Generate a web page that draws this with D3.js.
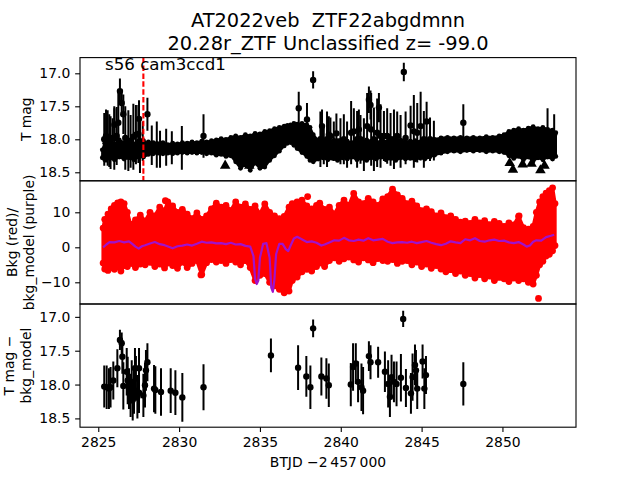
<!DOCTYPE html>
<html>
<head>
<meta charset="utf-8">
<script src="https://cdn.jsdelivr.net/npm/d3@7"></script>
<style>
  body { margin: 0; background: #fff; }
  svg { font-family: 'DejaVu Sans', sans-serif; }
  text { white-space: pre; }
</style>
</head>
<body>
<svg id="chart" width="640" height="480"></svg>
<script>
// ---------- data ----------

// title / annotation texts
var titleLines = ['AT2022veb  ZTF22abgdmnn', '20.28r_ZTF Unclassified z= -99.0'];
var sectorLabel = 's56 cam3ccd1';
var vlineT = 2827.79;

// tick values
var timeTicks = [2825, 2830, 2835, 2840, 2845, 2850];
var magTicks = [17.0, 17.5, 18.0, 18.5];
var bkgTicks = [-10, 0, 10];

// top panel: dense band of T mag (bright and faint edge)
var bandT = [2825.25, 2825.4, 2825.7, 2826.0, 2826.3, 2826.6, 2826.9, 2827.2, 2827.5, 2827.8,
    2828.1, 2828.4, 2828.7, 2829.0, 2829.3, 2829.6, 2829.9, 2830.2, 2830.5, 2830.8, 2831.1, 2831.4,
    2831.7, 2832.0, 2832.3, 2832.6, 2832.9, 2833.2, 2833.5, 2833.8, 2834.1, 2834.4, 2834.7, 2835.0,
    2835.3, 2835.6, 2835.9, 2836.2, 2836.5,
    2836.7, 2836.9, 2837.1, 2837.3, 2837.6, 2837.9, 2838.1, 2838.3,
    2838.6, 2838.9, 2839.2, 2839.5, 2839.8, 2840.1, 2840.4, 2840.7, 2841.0, 2841.3, 2841.6, 2841.9,
    2842.2, 2842.5, 2842.8, 2843.1, 2843.4, 2843.7, 2844.0, 2844.3, 2844.6, 2844.9, 2845.2, 2845.5, 2845.8,
    2846.2, 2846.6, 2847.0, 2847.4, 2847.8, 2848.2, 2848.6, 2849.0, 2849.4, 2849.8,
    2850.1, 2850.4, 2850.7, 2851.0, 2851.3, 2851.6, 2851.9, 2852.2, 2852.5, 2852.8, 2853.1, 2853.3];
var bandTop = [18.16, 18.06, 18.03, 18.07, 18.01, 18.05, 18.03, 18.07, 18.02, 18.06,
    18.04, 18.05, 18.07, 18.05, 18.08, 18.06, 18.07, 18.05, 18.06, 18.04, 18.05, 18.03,
    18.04, 18.02, 18.01, 17.99, 18.00, 17.97, 17.95, 17.97, 17.93, 17.95, 17.91, 17.92,
    17.88, 17.87, 17.84, 17.82, 17.80,
    17.79, 17.78, 17.76, 17.77, 17.76, 17.78, 17.82, 17.93,
    18.02, 18.04, 18.03, 18.05, 18.02, 18.04, 18.03, 18.05, 18.02, 18.04, 18.01, 18.03,
    18.05, 18.02, 18.04, 18.03, 18.05, 18.02, 18.04, 18.03, 18.02, 18.04, 18.03, 18.02, 18.00,
    17.98, 17.97, 17.98, 17.97, 17.98, 17.97, 17.98, 17.96, 17.97, 17.95,
    17.93, 17.88, 17.86, 17.84, 17.86, 17.83, 17.81, 17.84, 17.82, 17.85, 17.86, 17.90];
var bandBot = [18.28, 18.31, 18.29, 18.31, 18.27, 18.30, 18.28, 18.31, 18.27, 18.27,
    18.23, 18.22, 18.21, 18.22, 18.21, 18.22, 18.21, 18.20, 18.21, 18.20, 18.21, 18.20,
    18.22, 18.21, 18.24, 18.23, 18.26, 18.25, 18.34, 18.44, 18.38, 18.47, 18.36, 18.44,
    18.42, 18.32, 18.25, 18.18, 18.10,
    18.06, 18.05, 18.09, 18.14, 18.20, 18.26, 18.32, 18.34,
    18.30, 18.28, 18.31, 18.29, 18.32, 18.28, 18.30, 18.27, 18.31, 18.29, 18.32, 18.28,
    18.30, 18.27, 18.31, 18.29, 18.32, 18.28, 18.30, 18.29, 18.31, 18.28, 18.30, 18.27, 18.24,
    18.21, 18.19, 18.18, 18.19, 18.17, 18.18, 18.17, 18.19, 18.18, 18.19,
    18.20, 18.25, 18.29, 18.26, 18.31, 18.27, 18.33, 18.28, 18.31, 18.27, 18.30, 18.26];

// top panel: points with error bars that stand out of the band
var errT = [2825.37, 2825.48, 2825.58, 2825.68, 2825.76, 2825.89, 2825.99, 2826.00, 2826.14, 2826.24,
    2826.34, 2826.45, 2826.55, 2826.67, 2826.86, 2827.00, 2827.17, 2827.33, 2827.48, 2827.52,
    2827.58, 2827.75, 2828.04, 2828.31, 2828.62, 2828.82, 2829.20, 2829.55, 2830.17, 2831.51,
    2837.40, 2837.91, 2838.29, 2838.74, 2838.84, 2838.95, 2839.15, 2839.26, 2839.36, 2839.57,
    2839.73, 2839.98, 2840.19, 2840.39, 2840.64, 2840.81, 2841.01, 2841.12, 2841.22, 2841.43,
    2841.63, 2841.74, 2841.84, 2841.88, 2842.05, 2842.25, 2842.36, 2842.46, 2842.67, 2842.87,
    2843.08, 2843.29, 2843.49, 2843.70, 2843.90, 2844.01, 2844.32, 2844.52, 2844.73, 2844.94,
    2845.14, 2845.31, 2845.52, 2845.76, 2847.58, 2852.79, 2853.20];
var errMag = [18.00, 17.95, 17.98, 18.02, 18.05, 17.98, 17.98, 17.78, 17.95, 17.75,
    17.27, 17.45, 17.62, 17.98, 18.02, 18.03, 17.96, 17.93, 17.92, 17.69,
    18.10, 18.03, 17.62, 18.09, 18.08, 18.15, 18.12, 18.13, 18.13, 17.95,
    17.53, 17.70, 17.10, 18.00, 17.80, 18.08, 18.00, 17.93, 17.95, 18.03,
    17.91, 18.03, 18.00, 18.08, 17.90, 17.88, 18.00, 17.85, 18.00, 18.08,
    17.80, 17.40, 17.48, 17.85, 18.00, 17.90, 17.52, 17.95, 17.95, 17.95,
    18.00, 18.00, 17.95, 18.03, 16.98, 17.98, 17.79, 17.88, 17.90, 17.80,
    18.00, 17.73, 18.00, 18.02, 17.75, 17.88, 17.92];
var errSize = [0.40, 0.40, 0.42, 0.40, 0.40, 0.30, 0.48, 0.25, 0.44, 0.50,
    0.19, 0.20, 0.30, 0.48, 0.46, 0.40, 0.50, 0.45, 0.44, 0.28,
    0.41, 0.30, 0.25, 0.30, 0.35, 0.28, 0.28, 0.25, 0.33, 0.33,
    0.25, 0.25, 0.13, 0.42, 0.25, 0.30, 0.42, 0.28, 0.28, 0.30,
    0.30, 0.35, 0.38, 0.35, 0.48, 0.35, 0.43, 0.30, 0.37, 0.40,
    0.50, 0.20, 0.22, 0.55, 0.48, 0.52, 0.22, 0.48, 0.38, 0.42,
    0.40, 0.45, 0.37, 0.40, 0.14, 0.40, 0.30, 0.55, 0.45, 0.52,
    0.43, 0.30, 0.33, 0.30, 0.28, 0.35, 0.30];

// top panel: upper limits
var limT = [2832.85, 2834.34, 2850.45, 2850.65, 2851.25, 2851.8, 2852.35, 2852.6];
var limMag = [18.40, 18.40, 18.36, 18.46, 18.38, 18.37, 18.47, 18.40];

// middle panel: background flux (red) envelope
var redT = [2825.3, 2825.4, 2825.6, 2825.8, 2826.0, 2826.2, 2826.4, 2826.6, 2826.8, 2827.0,
    2827.3, 2827.6, 2827.9, 2828.2, 2828.5, 2828.8, 2829.1, 2829.3, 2829.6, 2829.9,
    2830.2, 2830.5, 2830.8, 2831.1, 2831.4, 2831.7, 2832.0, 2832.3, 2832.6, 2832.9,
    2833.2, 2833.5, 2833.8, 2834.1, 2834.4, 2834.7, 2835.0, 2835.3, 2835.6, 2835.9,
    2836.2, 2836.5, 2836.8, 2837.0, 2837.3, 2837.6, 2837.9, 2838.2, 2838.5,
    2838.7, 2839.0, 2839.3, 2839.6, 2839.9, 2840.2, 2840.5, 2840.8, 2841.1, 2841.4,
    2841.7, 2842.0, 2842.3, 2842.6, 2842.9, 2843.2, 2843.5, 2843.8, 2844.1, 2844.4,
    2844.7, 2845.0, 2845.3, 2845.6, 2845.9, 2846.2, 2846.5, 2846.8, 2847.1, 2847.4,
    2847.7, 2848.0, 2848.3, 2848.6, 2848.9, 2849.2, 2849.5, 2849.8, 2850.1, 2850.4,
    2850.7, 2851.0, 2851.3, 2851.6, 2851.9, 2852.1, 2852.3, 2852.5, 2852.7, 2852.9,
    2853.1, 2853.25];
var redTop = [5.5, 8.0, 9.5, 11.0, 12.0, 12.7, 13.0, 12.5, 10.0, 6.5,
    7.8, 9.2, 7.5, 10.0, 9.0, 11.5, 10.5, 13.0, 11.8, 10.0,
    10.8, 9.5, 8.2, 9.8, 8.0, 9.0, 11.0, 12.6, 11.5, 12.0,
    10.5, 13.0, 11.5, 12.4, 10.8, 11.8, 9.5, 12.4, 10.0, 9.0,
    8.2, 8.8, 11.5, 12.5, 13.0, 13.5, 11.8, 11.0, 12.0,
    12.6, 10.8, 11.5, 9.5, 12.0, 13.5, 12.0, 15.4, 13.0, 12.5,
    14.0, 13.0, 12.0, 13.8, 14.5, 16.6, 15.0, 14.0, 12.5, 13.2,
    11.8, 10.5, 11.0, 10.2, 9.0, 9.8, 8.5, 9.0, 8.0, 7.2,
    7.5, 6.8, 8.0, 7.0, 7.6, 6.5, 7.4, 6.8, 6.0, 7.0,
    6.4, 8.8, 5.6, 5.2, 6.0, 10.0, 13.0, 14.5, 15.5, 16.2,
    17.0, 12.5];
var redBot = [-4.5, -6.2, -6.6, -5.8, -6.3, -5.6, -6.8, -5.2, -5.5, -4.6,
    -5.8, -4.8, -5.0, -4.3, -5.5, -4.8, -5.9, -4.5, -5.2, -6.0,
    -4.2, -5.8, -4.6, -3.8, -7.8, -4.4, -3.5, -4.2, -3.8, -4.6,
    -3.5, -4.2, -5.0, -3.8, -5.8, -9.5, -8.0, -7.5, -10.0, -11.0,
    -12.0, -13.0, -12.5, -9.5, -8.5, -7.0, -6.3, -6.8, -5.5,
    -4.5, -5.5, -3.8, -3.0, -4.0, -3.3, -2.8, -3.6, -4.2, -3.0,
    -3.6, -4.4, -3.2, -3.8, -4.0, -3.5, -4.6, -4.0, -3.8, -5.0,
    -4.2, -5.5, -4.8, -6.0, -5.2, -6.2, -7.0, -6.4, -7.5, -6.8,
    -8.0, -7.5, -8.8, -7.8, -9.0, -8.2, -9.5, -8.6, -9.0, -9.8,
    -8.8, -9.5, -9.0, -10.0, -10.5, -8.0, -5.0, -4.0, -2.5, -2.0,
    -1.0, 0.5];

// middle panel: single stray background points
var redOutT = [2852.23, 2837.95, 2829.15, 2831.35, 2851.03];
var redOutV = [-14.6, 14.5, 13.3, -7.9, 9.0];

// middle panel: background model (purple)
var bkgT = [2825.3, 2825.5, 2825.7, 2826.0, 2826.3, 2826.6, 2826.9, 2827.1, 2827.3, 2827.5,
    2827.7, 2827.9, 2828.2, 2828.5, 2828.8, 2829.1, 2829.4, 2829.6, 2829.9, 2830.2,
    2830.5, 2830.8, 2831.1, 2831.4, 2831.7, 2832.0, 2832.3, 2832.6, 2832.9, 2833.2,
    2833.5, 2833.8, 2834.1, 2834.4, 2834.6, 2834.7, 2834.8, 2834.9, 2835.0, 2835.2,
    2835.4, 2835.6, 2835.7, 2835.8, 2835.9, 2836.0, 2836.2, 2836.4, 2836.6, 2836.75,
    2836.9, 2837.1, 2837.3, 2837.5, 2837.7, 2837.9, 2838.2, 2838.5, 2838.8, 2839.0,
    2839.3, 2839.6, 2839.9, 2840.2, 2840.5, 2840.8, 2841.1, 2841.4, 2841.7, 2842.0,
    2842.3, 2842.6, 2842.9, 2843.2, 2843.5, 2843.8, 2844.1, 2844.4, 2844.7, 2845.0,
    2845.3, 2845.6, 2845.9, 2846.2, 2846.5, 2846.8, 2847.1, 2847.4, 2847.7, 2848.0,
    2848.3, 2848.6, 2848.9, 2849.2, 2849.5, 2849.8, 2850.1, 2850.4, 2850.7, 2851.0,
    2851.3, 2851.5, 2851.7, 2851.9, 2852.1, 2852.4, 2852.7, 2853.0, 2853.2];
var bkgV = [0.0, 0.8, 1.5, 1.4, 1.8, 1.4, 1.7, 1.0, 0.2, -0.4,
    0.3, 0.6, 1.1, 1.5, 0.9, 0.6, 0.1, -0.3, 0.3, 0.5,
    0.8, 0.5, 1.0, 1.6, 1.3, 1.4, 1.1, 1.2, 0.9, 1.3,
    0.8, 0.9, 0.4, 0.2, -2.5, -9.0, -10.5, -9.5, -3.0, 1.0,
    1.2, -3.0, -11.5, -12.7, -9.0, -2.0, 1.0, 1.0, -0.5, -1.1,
    0.5, 2.5, 3.0, 2.5, 2.0, 1.5, 1.7, 1.3, 0.5, 0.8,
    1.4, 2.0, 1.9, 2.7, 2.0, 1.8, 2.2, 1.9, 2.6, 2.0,
    2.2, 2.4, 1.6, 1.2, 1.4, 1.5, 1.3, 1.6, 1.2, 1.5,
    1.8, 1.3, 0.9, 0.6, 1.0, 1.7, 1.4, 1.2, 2.3, 2.0,
    2.6, 1.8, 1.6, 2.0, 2.2, 1.8, 1.9, 1.4, 1.2, 1.5,
    0.8, 0.2, 0.5, 1.6, 2.0, 1.9, 2.9, 3.3, 3.6];

// bottom panel: T mag - bkg_model detections
var diffT = [2825.37, 2825.52, 2825.66, 2825.76, 2825.93, 2826.18, 2826.34, 2826.45, 2826.49, 2826.55,
    2826.76, 2826.82, 2826.90, 2827.00, 2827.07, 2827.13, 2827.21, 2827.27, 2827.33, 2827.42,
    2827.52, 2827.52, 2827.79, 2827.89, 2827.95, 2828.04, 2828.45, 2828.53, 2828.88, 2829.48,
    2829.77, 2830.20, 2831.51, 2835.68, 2837.36, 2837.87, 2838.12, 2838.29, 2838.80, 2839.11,
    2839.26, 2840.62, 2840.76, 2840.93, 2841.07, 2841.28, 2841.38, 2841.74, 2841.84, 2842.31,
    2842.73, 2842.93, 2843.04, 2843.14, 2843.29, 2843.45, 2843.72, 2843.86, 2844.03, 2844.34,
    2844.44, 2844.59, 2844.65, 2844.73, 2845.06, 2845.17, 2845.27, 2847.58];
var diffMag = [18.03, 18.04, 18.06, 18.04, 17.94, 17.76, 17.34, 17.39, 17.59, 18.02,
    17.81, 17.94, 18.06, 18.16, 17.96, 18.23, 18.08, 17.76, 17.91, 18.18,
    17.76, 18.12, 18.16, 18.01, 17.79, 17.67, 18.06, 18.08, 18.11, 18.09,
    18.12, 18.19, 18.04, 17.57, 17.75, 17.88, 18.04, 17.17, 17.88, 17.91,
    18.01, 18.00, 17.74, 17.69, 17.96, 18.04, 18.09, 17.58, 17.67, 17.67,
    17.81, 17.99, 18.18, 17.89, 17.96, 17.99, 17.90, 17.03, 18.05, 18.13,
    17.89, 17.71, 17.79, 18.06, 17.66, 18.06, 17.86, 17.99];
var diffErr = [0.31, 0.32, 0.30, 0.30, 0.28, 0.28, 0.15, 0.16, 0.25, 0.35,
    0.35, 0.35, 0.30, 0.32, 0.32, 0.30, 0.35, 0.30, 0.33, 0.32,
    0.30, 0.30, 0.32, 0.33, 0.30, 0.28, 0.35, 0.35, 0.35, 0.33,
    0.33, 0.36, 0.34, 0.25, 0.33, 0.30, 0.32, 0.13, 0.28, 0.30,
    0.32, 0.32, 0.35, 0.30, 0.30, 0.35, 0.35, 0.22, 0.25, 0.23,
    0.30, 0.35, 0.30, 0.33, 0.30, 0.33, 0.35, 0.12, 0.28, 0.30,
    0.35, 0.30, 0.30, 0.30, 0.25, 0.30, 0.28, 0.32];

// ---------- layout ----------
var left = 80, right = 576;
var panelTop = [57.6, 180.8, 304.0];
var panelH = 123.2;
var tickLen = 4.86;

var svg = d3.select('#chart');

var x = d3.scaleLinear().domain([2823.87, 2854.55]).range([left, right]);
var yTop = d3.scaleLinear().domain([16.762, 18.629]).range([panelTop[0], panelTop[0] + panelH]);
var yBkg = d3.scaleLinear().domain([19.0, -16.2]).range([panelTop[1], panelTop[1] + panelH]);
var yDiff = d3.scaleLinear().domain([16.81, 18.63]).range([panelTop[2], panelTop[2] + panelH]);

function zip(t, v) {
    /* pair up time and value arrays */
    return t.map(function(d, i) { return [d, v[i]]; });
}

function makePanel(i) {
    /* clipped group for the data of panel i */
    svg.append('clipPath').attr('id', 'clip' + i)
        .append('rect')
        .attr('x', left).attr('y', panelTop[i])
        .attr('width', right - left).attr('height', panelH);
    return svg.append('g').attr('clip-path', 'url(#clip' + i + ')');
}

function drawErrorbars(g, t, m, e, y, r) {
    /* vertical error bars with a round marker */
    var pts = t.map(function(d, i) { return { t: d, m: m[i], e: e[i] }; });
    g.selectAll(null).data(pts).enter().append('line')
        .attr('x1', function(d) { return x(d.t); })
        .attr('x2', function(d) { return x(d.t); })
        .attr('y1', function(d) { return y(d.m - d.e); })
        .attr('y2', function(d) { return y(d.m + d.e); })
        .attr('stroke', 'black')
        .attr('stroke-width', 2);
    g.selectAll(null).data(pts).enter().append('circle')
        .attr('cx', function(d) { return x(d.t); })
        .attr('cy', function(d) { return y(d.m); })
        .attr('r', r)
        .attr('fill', 'black');
}

function drawBand(g, t, hi, lo, y, color, r) {
    /* dense cloud of points drawn as a filled envelope with dotted rims */
    var rows = t.map(function(d, i) { return { t: d, hi: hi[i], lo: lo[i] }; });
    g.append('path')
        .datum(rows)
        .attr('d', d3.area()
            .x(function(d) { return x(d.t); })
            .y0(function(d) { return y(d.lo); })
            .y1(function(d) { return y(d.hi); }))
        .attr('fill', color)
        .attr('stroke', color)
        .attr('stroke-width', r)
        .attr('stroke-linejoin', 'round');
    var rim = zip(t, hi).concat(zip(t, lo));
    g.selectAll(null).data(rim).enter().append('circle')
        .attr('cx', function(d) { return x(d[0]); })
        .attr('cy', function(d) { return y(d[1]); })
        .attr('r', r)
        .attr('fill', color);
}

function drawAxis(i, y, ticks, fmt) {
    /* y axis, frame and tick labels for panel i */
    var ax = svg.append('g')
        .attr('transform', 'translate(' + left + ',0)')
        .call(d3.axisLeft(y).tickValues(ticks).tickFormat(fmt)
            .tickSize(tickLen).tickPadding(4.86));
    ax.select('.domain').remove();
    ax.selectAll('line').attr('stroke-width', 1.1);
    ax.selectAll('text')
        .attr('font-size', 13.9)
        .attr('font-family', 'DejaVu Sans')
        .attr('fill', 'black');
    svg.append('rect')
        .attr('x', left).attr('y', panelTop[i])
        .attr('width', right - left).attr('height', panelH)
        .attr('fill', 'none')
        .attr('stroke', 'black')
        .attr('stroke-width', 1.1);
}

function ylabel(lines, cx, cy) {
    /* rotated y label, one text per line */
    lines.forEach(function(s, k) {
        svg.append('text')
            .attr('transform', 'translate(' + cx[k] + ',' + cy + ') rotate(-90)')
            .attr('text-anchor', 'middle')
            .attr('dominant-baseline', 'central')
            .attr('font-size', 13.9)
            .text(s);
    });
}

// ---------- panel 1: T mag ----------
var g1 = makePanel(0);
drawBand(g1, bandT, bandTop, bandBot, yTop, 'black', 2.4);
drawErrorbars(g1, errT, errMag, errSize, yTop, 3.2);
g1.selectAll(null).data(zip(limT, limMag)).enter().append('path')
    .attr('d', d3.symbol(d3.symbolTriangle, 48))
    .attr('transform', function(d) { return 'translate(' + x(d[0]) + ',' + yTop(d[1]) + ')'; })
    .attr('fill', 'black');
g1.append('line')
    .attr('x1', x(vlineT)).attr('x2', x(vlineT))
    .attr('y1', panelTop[0]).attr('y2', panelTop[0] + panelH)
    .attr('stroke', 'red')
    .attr('stroke-width', 2.1)
    .attr('stroke-dasharray', '5.5,2.4');
drawAxis(0, yTop, magTicks, d3.format('.1f'));

svg.append('text')
    .attr('x', 105).attr('y', 70)
    .attr('font-size', 16.67)
    .text(sectorLabel);

// ---------- panel 2: background ----------
var g2 = makePanel(1);
drawBand(g2, redT, redTop, redBot, yBkg, 'red', 3.4);
g2.selectAll(null).data(zip(redOutT, redOutV)).enter().append('circle')
    .attr('cx', function(d) { return x(d[0]); })
    .attr('cy', function(d) { return yBkg(d[1]); })
    .attr('r', 3.4)
    .attr('fill', 'red');
g2.append('path')
    .datum(zip(bkgT, bkgV))
    .attr('d', d3.line()
        .x(function(d) { return x(d[0]); })
        .y(function(d) { return yBkg(d[1]); }))
    .attr('fill', 'none')
    .attr('stroke', '#a012cc')
    .attr('stroke-width', 2.2)
    .attr('stroke-linejoin', 'round');
drawAxis(1, yBkg, bkgTicks, d3.format('d'));

// ---------- panel 3: difference ----------
var g3 = makePanel(2);
drawErrorbars(g3, diffT, diffMag, diffErr, yDiff, 3.2);
drawAxis(2, yDiff, magTicks, d3.format('.1f'));

// shared time axis under the last panel
var xa = svg.append('g')
    .attr('transform', 'translate(0,' + (panelTop[2] + panelH) + ')')
    .call(d3.axisBottom(x).tickValues(timeTicks).tickFormat(d3.format('d'))
        .tickSize(tickLen).tickPadding(4.86));
xa.select('.domain').remove();
xa.selectAll('line').attr('stroke-width', 1.1);
xa.selectAll('text')
    .attr('font-size', 13.9)
    .attr('font-family', 'DejaVu Sans')
    .attr('fill', 'black');

svg.append('text')
    .attr('x', (left + right) / 2).attr('y', 467)
    .attr('text-anchor', 'middle')
    .attr('font-size', 13.9)
    .text('BTJD \u22122\u2009457\u2009000');

// y labels
ylabel(['T mag'], [26], panelTop[0] + panelH / 2);
ylabel(['Bkg (red)/', 'bkg_model (purple)'], [12, 28.5], panelTop[1] + panelH / 2);
ylabel(['T mag \u2212', 'bkg_model'], [9, 26], panelTop[2] + panelH / 2);

// title
titleLines.forEach(function(s, k) {
    svg.append('text')
        .attr('x', (left + right) / 2).attr('y', 27 + k * 22.5)
        .attr('text-anchor', 'middle')
        .attr('font-size', 19.4)
        .text(s);
});
</script>
</body>
</html>
